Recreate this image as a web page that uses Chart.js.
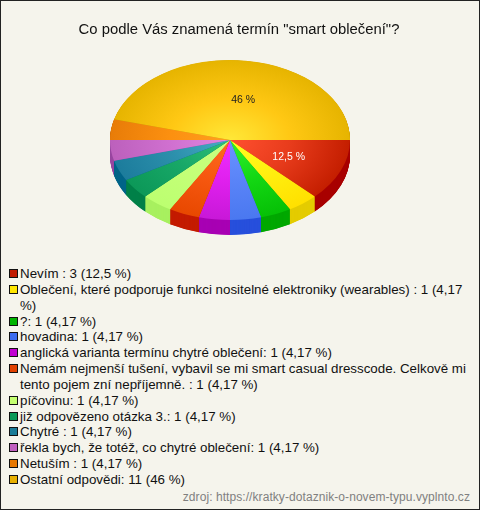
<!DOCTYPE html>
<html>
<head>
<meta charset="utf-8">
<style>
  html, body { margin: 0; padding: 0; }
  body { width: 480px; height: 510px; overflow: hidden; font-family: "Liberation Sans", Arial, sans-serif; }
  .frame { position: relative; width: 478px; height: 508px; background: #f5f4ec; border: 1px solid #222; }
  .chart-box { position: absolute; left: -1px; top: -1px; width: 480px; height: 262px; }
  h1 { position: absolute; left: -1px; top: 18px; width: 478px; margin: 0; text-align: center; font-size: 14.85px; line-height: 20px; font-weight: normal; color: #111; }
  .legend { position: absolute; left: 7px; top: 265px; width: 463px; font-size: 13.33px; line-height: 15.85px; color: #111; margin: 0; padding: 0; list-style: none; }
  .legend li { position: relative; padding-left: 12px; }
  .legend i { position: absolute; left: 1px; top: 3px; width: 7px; height: 7px; border: 1px solid #111; }
  .source { position: absolute; right: 9px; top: 489px; font-size: 12px; letter-spacing: 0.07px; color: #808080; }
</style>
</head>
<body>
<div class="frame">
  <div class="chart-box"><canvas id="pieChart"></canvas></div>
  <h1 id="title"></h1>
  <ul class="legend" id="legend"></ul>
  <div class="source">zdroj: https://kratky-dotaznik-o-novem-typu.vyplnto.cz</div>
</div>

<script src="https://cdn.jsdelivr.net/npm/chart.js@4"></script>
<script>
const title = 'Co podle Vás znamená termín "smart oblečení"?';

const answers = [
  "Nevím :", "Oblečení, které podporuje funkci nositelné elektroniky (wearables) :", "?:", "hovadina:",
  "anglická varianta termínu chytré oblečení:",
  "Nemám nejmenší tušení, vybavil se mi smart casual dresscode. Celkově mi tento pojem zní nepříjemně. :",
  "píčovinu:", "již odpovězeno otázka 3.:", "Chytré :", "řekla bych, že totéž, co chytré oblečení:",
  "Netuším :", "Ostatní odpovědi:"
];
const counts = [3, 1, 1, 1, 1, 1, 1, 1, 1, 1, 1, 11];
const percents = ["12,5", "4,17", "4,17", "4,17", "4,17", "4,17", "4,17", "4,17", "4,17", "4,17", "4,17", "46"];

// legend swatch, gradient stops and side wall of every slice
const swatchColors = ["#c01a00", "#ffe600", "#00b400", "#3c6cf0", "#c000d0", "#e04000", "#c4ff70", "#0a9a58", "#1a7c98", "#c060c0", "#e87800", "#e8b000"];
const innerColors = ["#ff5030", "#ffff20", "#30f030", "#6a94ff", "#f030ff", "#ff6a20", "#c8ff80", "#30c078", "#48aec4", "#e088e0", "#ffa020", "#ffe838"];
const midColors = ["#e83c1c", "#fff010", "#14d814", "#5a84f8", "#e020ee", "#f65810", "#c4ff78", "#18a868", "#2c90ac", "#d070d0", "#fc9010", "#ffc814"];
const rimColors = ["#c41e00", "#ffe000", "#06c006", "#4a78f0", "#c818d8", "#e84800", "#bcff70", "#0c9858", "#1c7c9c", "#bc60bc", "#e87c08", "#e6b400"];
const sideColors = ["#a80000", "#e4cc00", "#00a800", "#2850dc", "#a800b4", "#c41c00", "#a8f060", "#008048", "#006488", "#9848a0", "#c06000", "#c09000"];

const TILT = 2 / 3;
const DEPTH = 15;

document.getElementById("title").textContent = title;
document.getElementById("legend").innerHTML = answers.map((answer, i) =>
  `<li><i style="background:${swatchColors[i]}"></i>${answer} ${counts[i]} (${percents[i]} %)</li>`
).join("");

// squashes the pie into an ellipse and adds the side wall under it
const tiltPlugin = {
  id: "tilt",
  beforeDatasetsDraw(chart) {
    const ctx = chart.ctx;
    const arcs = chart.getDatasetMeta(0).data;
    const { x, y, outerRadius } = arcs[0];
    ctx.save();
    ctx.translate(x, y);
    ctx.scale(1, TILT);
    ctx.translate(-x, -y);
    for (let d = DEPTH / TILT; d > 0; d -= 0.5) {
      arcs.forEach((arc, i) => {
        ctx.fillStyle = sideColors[i];
        ctx.beginPath();
        ctx.moveTo(x, y + d);
        ctx.arc(x, y + d, outerRadius, arc.startAngle, arc.endAngle);
        ctx.closePath();
        ctx.fill();
      });
    }
  },
  afterDatasetsDraw(chart) {
    const ctx = chart.ctx;
    ctx.restore();
    const arcs = chart.getDatasetMeta(0).data;
    ctx.font = "10.5px 'Liberation Sans', Arial, sans-serif";
    ctx.textAlign = "center";
    ctx.textBaseline = "middle";
    // only the two big slices carry a label
    [0, 11].forEach((i) => {
      const arc = arcs[i];
      const mid = (arc.startAngle + arc.endAngle) / 2;
      const r = arc.outerRadius * 0.52;
      ctx.fillStyle = i === 0 ? "#fff" : "#222";
      const nudge = i === 0 ? 1 : 5;
      ctx.fillText(percents[i] + " %", arc.x + Math.cos(mid) * r + nudge, arc.y + Math.sin(mid) * r * TILT + 1.5);
    });
  }
};

function sliceGradient(context) {
  const i = context.dataIndex;
  const { ctx, chartArea } = context.chart;
  if (!chartArea) return rimColors[i];
  const cx = (chartArea.left + chartArea.right) / 2;
  const cy = (chartArea.top + chartArea.bottom) / 2;
  const radius = (chartArea.right - chartArea.left) / 2;
  const gradient = ctx.createRadialGradient(cx, cy, 0, cx, cy, radius);
  gradient.addColorStop(0, innerColors[i]);
  gradient.addColorStop(0.5, midColors[i]);
  gradient.addColorStop(1, rimColors[i]);
  return gradient;
}

new Chart(document.getElementById("pieChart"), {
  type: "pie",
  data: {
    labels: answers,
    datasets: [{
      data: counts,
      backgroundColor: sliceGradient,
      borderWidth: 0
    }]
  },
  options: {
    responsive: true,
    maintainAspectRatio: false,
    animation: false,
    rotation: 90,
    layout: { padding: { left: 110, right: 130, top: 20, bottom: 2 } },
    plugins: {
      legend: { display: false },
      tooltip: { enabled: false }
    }
  },
  plugins: [tiltPlugin]
});
</script>
</body>
</html>
